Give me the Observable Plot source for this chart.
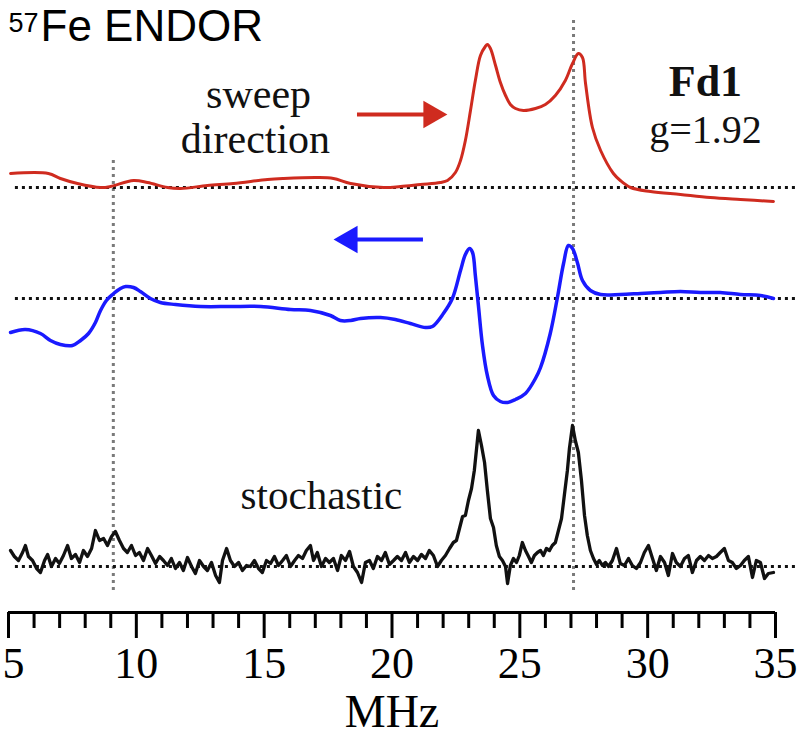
<!DOCTYPE html>
<html>
<head>
<meta charset="utf-8">
<script src="https://cdn.jsdelivr.net/npm/d3@7"></script>
<script src="https://cdn.jsdelivr.net/npm/@observablehq/plot@0.6"></script>
<style>
  html, body { margin: 0; padding: 0; background: #fff; }
  #chart svg { display: block; }
</style>
</head>
<body>
<div id="chart"></div>
<script>
// ---------- data (frequency in MHz, signal in arbitrary units, relative to each trace's baseline) ----------
const redFreq = [5.08,6.56,7.03,7.70,8.60,8.99,9.89,10.44,11.22,11.73,12.78,13.80,15.13,15.75,17.08,17.71,18.38,19.67,20.33,21.11,21.89,22.17,22.48,22.68,22.87,23.07,23.26,23.46,23.65,23.73,23.85,24.05,24.24,24.44,24.63,24.83,25.14,25.61,26.00,26.39,26.78,27.06,27.29,27.45,27.57,27.84,28.16,28.66,28.93,29.33,30.11,31.28,32.45,33.63,34.92];
const redSignal = [14,14,9,4,0,1,7,5,0,-1,2,4,8,9,10,9,4,0,1,3,5,7,15,27,47,77,107,132,141,143,139,122,105,92,83,79,77,79,83,92,107,124,134,130,104,60,37,14,7,0,-4,-7,-10,-12,-14];

const blueFreq = [5.08,5.66,6.25,6.64,7.03,7.50,7.82,8.13,8.40,8.60,8.83,9.07,9.38,9.58,9.89,10.16,10.55,10.94,11.53,12.51,13.68,14.86,16.03,16.81,17.59,17.98,18.38,18.77,19.55,20.13,20.72,21.31,21.58,22.01,22.36,22.68,22.87,23.03,23.15,23.26,23.38,23.54,23.73,23.97,24.24,24.52,24.83,25.22,25.61,25.81,26.19,26.47,26.71,26.90,27.06,27.25,27.45,27.76,28.16,28.93,29.72,30.50,31.28,32.06,32.84,33.63,34.41,34.92];
const blueSignal = [-34,-31,-35,-42,-46,-47,-42,-35,-24,-12,-2,4,10,12,11,7,0,-4,-6,-8,-8,-8,-11,-12,-17,-22,-22,-20,-19,-21,-25,-29,-28,-15,0,28,44,50,46,23,-7,-47,-77,-97,-103,-104,-101,-95,-80,-69,-35,1,35,53,50,36,18,8,4,4,5,6,7,6,6,4,3,0];

const blackFreq = [5.08,5.23,5.39,5.55,5.66,5.78,5.94,6.10,6.25,6.41,6.53,6.68,6.84,6.99,7.15,7.31,7.46,7.62,7.78,7.93,8.09,8.25,8.40,8.56,8.72,8.87,9.03,9.18,9.34,9.50,9.65,9.81,9.97,10.12,10.28,10.44,10.59,10.75,10.91,11.06,11.22,11.37,11.53,11.69,11.84,12.00,12.16,12.31,12.47,12.63,12.78,12.94,13.10,13.25,13.37,13.53,13.68,13.84,14.00,14.15,14.31,14.46,14.62,14.78,14.93,15.09,15.25,15.40,15.56,15.72,15.87,16.03,16.19,16.34,16.50,16.65,16.81,16.93,17.08,17.24,17.40,17.55,17.71,17.87,18.02,18.18,18.34,18.49,18.65,18.81,18.96,19.12,19.27,19.43,19.59,19.74,19.90,20.06,20.21,20.37,20.53,20.68,20.84,21.00,21.15,21.31,21.46,21.62,21.78,21.93,22.09,22.25,22.40,22.52,22.64,22.76,22.87,22.99,23.11,23.22,23.30,23.38,23.50,23.62,23.73,23.85,23.97,24.08,24.20,24.32,24.44,24.52,24.63,24.75,24.87,24.98,25.10,25.22,25.34,25.45,25.57,25.69,25.81,25.92,26.04,26.16,26.27,26.39,26.51,26.63,26.74,26.86,26.94,27.06,27.17,27.29,27.41,27.53,27.64,27.76,27.88,28.00,28.11,28.23,28.35,28.47,28.62,28.78,28.93,29.09,29.25,29.40,29.56,29.72,29.87,30.03,30.19,30.34,30.50,30.66,30.81,30.97,31.12,31.28,31.44,31.59,31.75,31.91,32.06,32.22,32.38,32.53,32.69,32.84,33.00,33.16,33.31,33.47,33.63,33.78,33.94,34.10,34.25,34.41,34.57,34.72,34.92];
const blackSignal = [16,10,6,14,21,10,6,-2,-6,6,12,0,8,3,11,21,8,12,4,16,10,18,36,26,28,21,30,35,26,18,14,21,11,14,6,18,11,3,10,6,1,8,-2,4,-4,9,0,-7,6,0,-4,4,-9,-16,6,18,6,0,4,-4,1,0,6,-2,-6,6,3,10,1,6,11,0,6,11,8,16,21,6,14,0,8,4,8,-4,11,6,15,0,-6,-16,4,6,-2,10,6,14,2,6,10,6,14,4,10,6,12,8,16,11,0,6,11,18,24,26,38,50,51,66,78,96,116,136,121,104,76,48,39,21,10,6,0,-17,1,8,4,11,24,16,10,4,11,14,16,11,18,16,21,24,36,48,71,96,118,141,126,114,86,51,31,16,8,2,6,1,4,0,6,18,3,1,8,1,-2,4,14,21,8,-4,10,4,-9,13,4,0,8,11,-6,6,10,6,11,8,10,14,18,6,4,-2,1,6,10,-11,6,4,-12,-7,-6];

// axis ticks
const majorTicks = [5, 10, 15, 20, 25, 30, 35];
const minorTicks = [6,7,8,9,11,12,13,14,16,17,18,19,21,22,23,24,26,27,28,29,31,32,33,34];
const tickLabels = ["5","10","15","20","25","30","35"];

// reference lines
const markerFreqs = [9.1, 27.1];

// annotations
const notes = [
  {f: 14.78, y: 518, text: "sweep", size: 42},
  {f: 14.66, y: 473, text: "direction", size: 42},
  {f: 32.26, y: 482, text: "g=1.92", size: 40},
  {f: 17.24, y: 117, text: "stochastic", size: 41}
];
const sampleLabel = {f: 32.26, y: 531, text: "Fd1", size: 44};

// ---------- layout constants ----------
const offRed = 425, offBlue = 314, offBlack = 46;
const red = "#cf2b1f", blue = "#1a1aff";
const serif = "Liberation Serif, Times New Roman, serif";
const sans = "Liberation Sans, Arial, Helvetica, sans-serif";

const red_ = redFreq.map((f, i) => ({f, v: redSignal[i] + offRed}));
const blue_ = blueFreq.map((f, i) => ({f, v: blueSignal[i] + offBlue}));
const black_ = blackFreq.map((f, i) => ({f, v: blackSignal[i] + offBlack}));
const labelFor = d => tickLabels[majorTicks.indexOf(d)];

const dots = "3,4";

const chart = Plot.plot({
  width: 800,
  height: 738,
  marginLeft: 8,
  marginRight: 25,
  marginTop: 0,
  marginBottom: 126,
  x: {domain: [5, 35], label: null},
  y: {domain: [0, 612], axis: null},
  style: {background: "white", overflow: "visible"},
  marks: [
    // vertical dotted markers
    Plot.ruleX([markerFreqs[0]], {x: d => d, y1: 22, y2: 452, stroke: "#7a7a7a", strokeWidth: 3, strokeDasharray: dots}),
    Plot.ruleX([markerFreqs[1]], {x: d => d, y1: 22, y2: 594, stroke: "#7a7a7a", strokeWidth: 3, strokeDasharray: dots}),
    // baselines
    Plot.ruleY([offRed, offBlue, offBlack], {y: d => d, x1: 5.27, x2: 35.78, stroke: "#111", strokeWidth: 3, strokeDasharray: dots}),
    // traces
    Plot.line(red_, {x: "f", y: "v", stroke: red, strokeWidth: 3, curve: "catmull-rom"}),
    Plot.line(blue_, {x: "f", y: "v", stroke: blue, strokeWidth: 3.5, curve: "catmull-rom"}),
    Plot.line(black_, {x: "f", y: "v", stroke: "#111", strokeWidth: 3.3}),
    // arrows
    Plot.ruleY([498], {y: d => d, x1: 18.65, x2: 21.54, stroke: red, strokeWidth: 4}),
    Plot.dot([21.54], {x: d => d, y: 498, symbol: "triangle", r: 10.3, rotate: 90, fill: red, stroke: "none"}),
    Plot.ruleY([373], {y: d => d, x1: 18.34, x2: 21.23, stroke: blue, strokeWidth: 4}),
    Plot.dot([18.34], {x: d => d, y: 373, symbol: "triangle", r: 10.3, rotate: -90, fill: blue, stroke: "none"}),
    // annotations
    Plot.text(notes, {x: "f", y: "y", text: "text", fontSize: d => d.size, fontFamily: serif, fill: "#111", textAnchor: "middle", lineAnchor: "middle"}),
    Plot.text([sampleLabel], {x: "f", y: "y", text: "text", fontSize: sampleLabel.size, fontWeight: "bold", fontFamily: serif, fill: "#111", textAnchor: "middle", lineAnchor: "middle"}),
    // title
    Plot.text(["57"], {frameAnchor: "top-left", dx: 0, dy: 23, fontSize: 27, fontFamily: sans, textAnchor: "start", lineAnchor: "middle", fill: "#000"}),
    Plot.text(["Fe ENDOR"], {frameAnchor: "top-left", dx: 32, dy: 26, fontSize: 44, fontFamily: sans, textAnchor: "start", lineAnchor: "middle", fill: "#000"}),
    // x axis
    Plot.ruleY([0], {x1: 5, x2: 35, stroke: "#000", strokeWidth: 3}),
    Plot.axisX({ticks: minorTicks, tickSize: 16, tickFormat: () => "", strokeWidth: 3, label: null, stroke: "#000"}),
    Plot.axisX({ticks: majorTicks, tickSize: 26, tickPadding: 8, tickFormat: d => d === majorTicks[0] ? "" : labelFor(d), strokeWidth: 3, fontSize: 44, fontFamily: serif, label: null, stroke: "#000", fill: "#000"}),
    Plot.text([majorTicks[0]], {x: d => d, y: 0, text: labelFor, dx: -6, dy: 34, fontSize: 44, fontFamily: serif, textAnchor: "start", lineAnchor: "top", fill: "#000"}),
    Plot.text(["MHz"], {x: 20, y: -100, fontSize: 46, fontFamily: serif, textAnchor: "middle", lineAnchor: "middle", fill: "#000"})
  ]
});

document.getElementById("chart").appendChild(chart);
</script>
</body>
</html>
